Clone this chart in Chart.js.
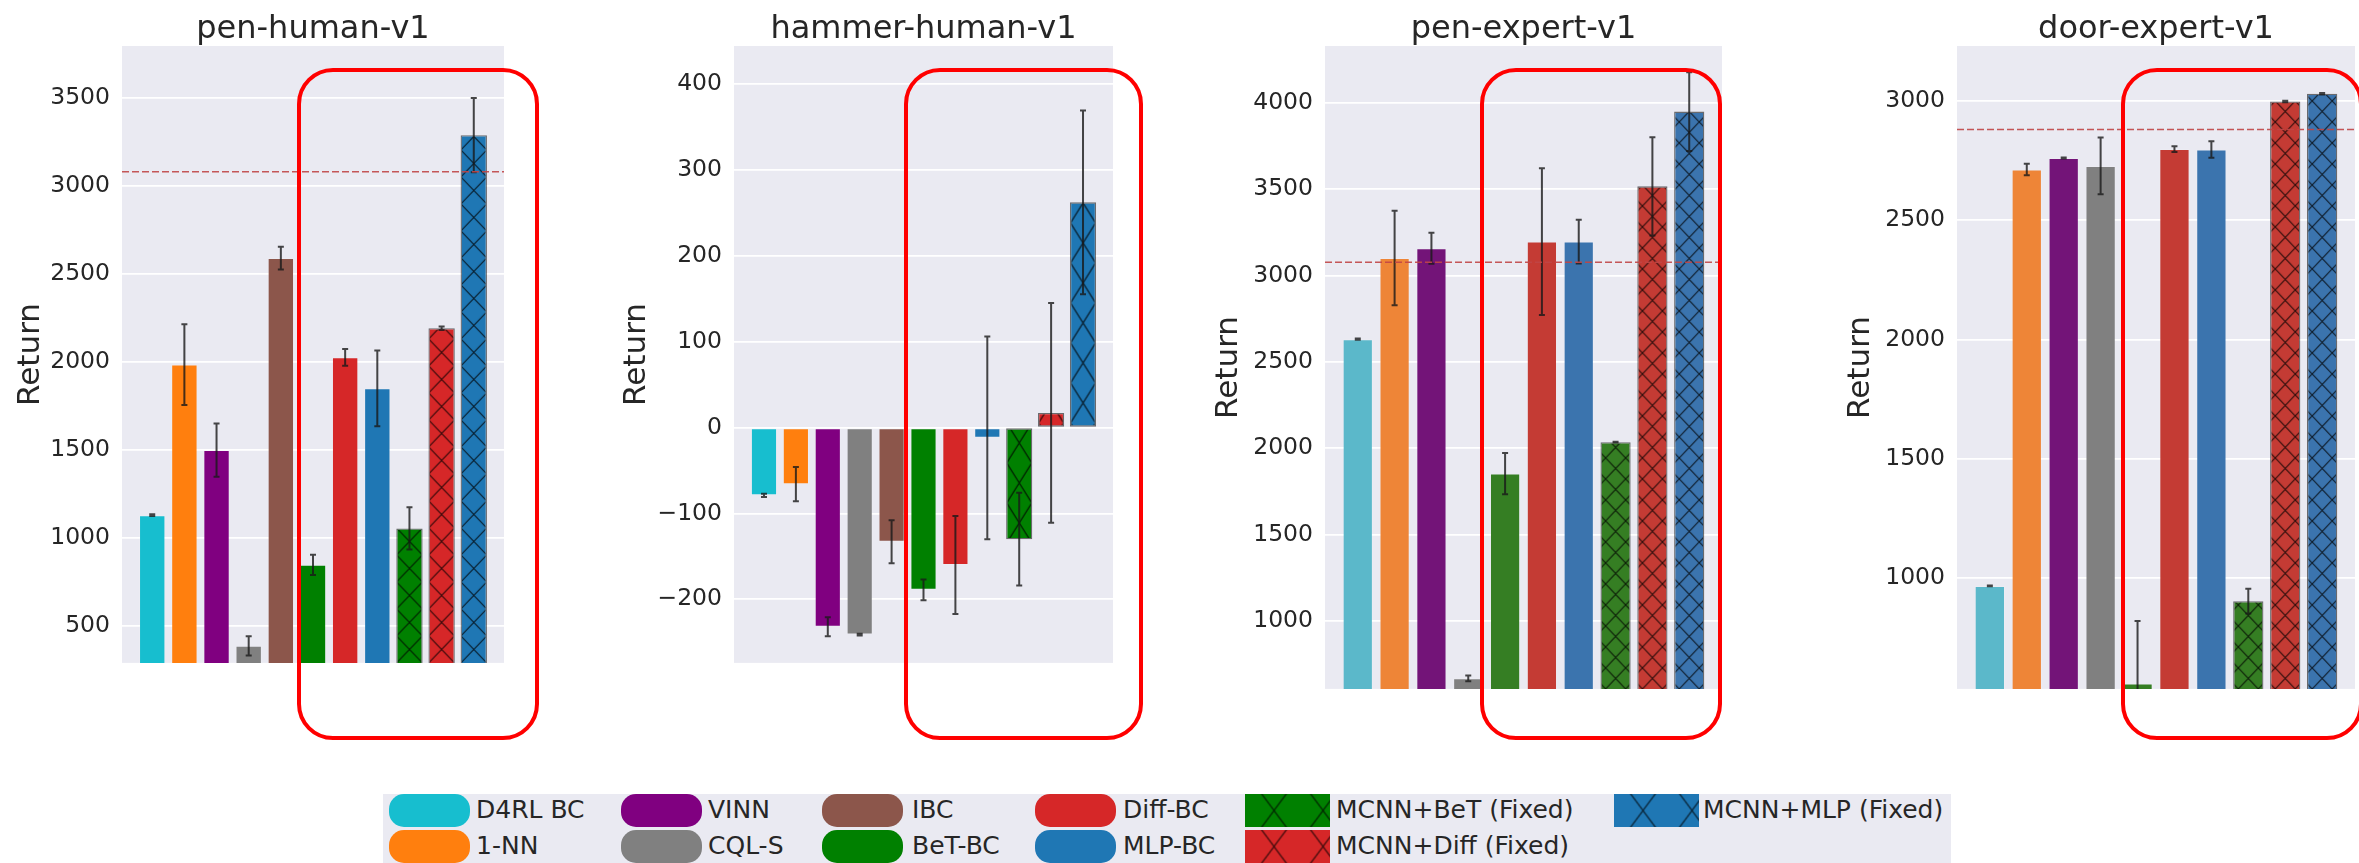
<!DOCTYPE html>
<html>
<head>
<meta charset="utf-8">
<script src="https://cdn.jsdelivr.net/npm/chart.js@4.4.0/dist/chart.umd.min.js"></script>
<style>
  html, body { margin: 0; padding: 0; }
  body { width: 2359px; height: 863px; overflow: hidden; position: relative; background: #fff; font-family: "DejaVu Sans", sans-serif; }
  .panel { position: absolute; top: 0; }
  .box { position: absolute; top: 68px; height: 672px; border: 4px solid #ff0000; border-radius: 36px; box-sizing: border-box; z-index: 5; }
  #legend { position: absolute; left: 383px; top: 794px; width: 1568px; height: 69px; background: #eaeaf2; }
  .pill { position: absolute; width: 81px; height: 33px; border-radius: 15px; }
  .lab { position: absolute; font-size: 25px; line-height: 30px; color: #262626; white-space: nowrap; }
</style>
</head>
<body>
<div class="panel" style="left:12px"><canvas id="c1" width="492" height="689"></canvas></div>
<div class="panel" style="left:618px"><canvas id="c2" width="495" height="689"></canvas></div>
<div class="panel" style="left:1210px"><canvas id="c3" width="512" height="715"></canvas></div>
<div class="panel" style="left:1842px"><canvas id="c4" width="513" height="715"></canvas></div>

<div class="box" style="left:297px; width:242px"></div>
<div class="box" style="left:904px; width:239px"></div>
<div class="box" style="left:1480px; width:242px"></div>
<div class="box" style="left:2121px; width:242px"></div>

<div id="legend"></div>

<script>
// methods, in bar order
const allMethods = ['D4RL BC', '1-NN', 'VINN', 'CQL-S', 'IBC', 'BeT-BC', 'Diff-BC', 'MLP-BC',
  'MCNN+BeT (Fixed)', 'MCNN+Diff (Fixed)', 'MCNN+MLP (Fixed)'];
const expertMethods = allMethods.filter(m => m !== 'IBC');

// pen-human-v1
const penHumanReturn = [1126, 1982, 1496, 384, 2587, 844, 2023, 1847, 1051, 2189, 3285];
const penHumanErr = [5, 229, 151, 55, 65, 58, 48, 215, 120, 10, 211];
const penHumanTicks = [500, 1000, 1500, 2000, 2500, 3000, 3500];

// hammer-human-v1
const hammerHumanReturn = [-79, -66, -232, -241, -133, -189, -160, -12, -130, 17, 262];
const hammerHumanErr = [2, 20, 11, 1, 25, 12, 57, 118, 54, 128, 107];
const hammerHumanTicks = [-200, -100, 0, 100, 200, 300, 400];

// pen-expert-v1
const penExpertReturn = [2632, 3102, 3158, 667, 1853, 3197, 3197, 2035, 3517, 3950];
const penExpertErr = [3, 273, 90, 16, 119, 425, 127, 2, 285, 228];
const penExpertTicks = [1000, 1500, 2000, 2500, 3000, 3500, 4000];

// door-expert-v1
const doorExpertReturn = [967, 2713, 2761, 2728, 558, 2799, 2797, 903, 2998, 3031];
const doorExpertErr = [2, 24, 2, 119, 262, 12, 35, 52, 3, 3];
const doorExpertTicks = [1000, 1500, 2000, 2500, 3000];

// dashed reference (expert) returns
const penExpertLine = 3078;
const doorExpertLine = 2881;

const brightColors = {
  'D4RL BC': '#17becf', '1-NN': '#ff7f0e', 'VINN': '#800080', 'CQL-S': '#808080', 'IBC': '#8c564b',
  'BeT-BC': '#008000', 'Diff-BC': '#d62728', 'MLP-BC': '#1f77b4',
  'MCNN+BeT (Fixed)': '#008000', 'MCNN+Diff (Fixed)': '#d62728', 'MCNN+MLP (Fixed)': '#1f77b4'
};
const mutedColors = {
  'D4RL BC': '#5bb8ca', '1-NN': '#ee8537', 'VINN': '#731478', 'CQL-S': '#808080', 'IBC': '#8c564b',
  'BeT-BC': '#357e23', 'Diff-BC': '#c43b34', 'MLP-BC': '#3b74ae',
  'MCNN+BeT (Fixed)': '#357e23', 'MCNN+Diff (Fixed)': '#c43b34', 'MCNN+MLP (Fixed)': '#3b74ae'
};
const isHatched = m => m.startsWith('MCNN');
const TEXT = '#262626';

function hatch(color, w, h) {
  const c = document.createElement('canvas');
  c.width = w; c.height = h;
  const g = c.getContext('2d');
  g.fillStyle = color;
  g.fillRect(0, 0, w, h);
  g.strokeStyle = 'rgba(0,0,0,0.75)';
  g.lineWidth = 1.2;
  g.beginPath();
  g.moveTo(0, 0); g.lineTo(w, h);
  g.moveTo(0, h); g.lineTo(w, 0);
  g.stroke();
  const p = g.createPattern(c, 'repeat');
  p.tile = [w, h];
  return p;
}

// grey plot area like seaborn darkgrid
const plotBg = {
  id: 'plotBg',
  beforeDraw(chart) {
    const {ctx, chartArea: a} = chart;
    ctx.save();
    ctx.fillStyle = '#eaeaf2';
    ctx.fillRect(a.left, a.top, a.width, a.height);
    ctx.restore();
  }
};

// title centred over the plot area, baseline just above it
const axTitle = {
  id: 'axTitle',
  afterDraw(chart, args, opts) {
    const {ctx, chartArea: a} = chart;
    ctx.save();
    ctx.fillStyle = TEXT;
    ctx.font = '32px "DejaVu Sans"';
    ctx.textAlign = 'center';
    ctx.textBaseline = 'alphabetic';
    ctx.fillText(opts.text, (a.left + a.right) / 2, a.top - 8);
    ctx.restore();
  }
};

// line the hatch up with each bar
const hatchAlign = {
  id: 'hatchAlign',
  beforeDatasetsDraw(chart) {
    const meta = chart.getDatasetMeta(0);
    meta.data.forEach(bar => {
      const bg = bar.options.backgroundColor;
      if (bg instanceof CanvasPattern && bg.tile) {
        bg.setTransform(new DOMMatrix().translate(bar.x - bg.tile[0] / 2, chart.chartArea.bottom));
      }
    });
  }
};

const errBars = {
  id: 'errBars',
  afterDatasetsDraw(chart, args, opts) {
    const {ctx, chartArea: a, scales: {x, y}} = chart;
    ctx.save();
    ctx.beginPath();
    ctx.rect(a.left, a.top, a.width, a.height);
    ctx.clip();
    ctx.strokeStyle = 'rgba(25,25,25,0.8)';
    ctx.lineWidth = 2;
    opts.values.forEach((v, i) => {
      const e = opts.errs[i];
      const px = x.getPixelForValue(i);
      const t = y.getPixelForValue(v + e);
      const b = y.getPixelForValue(v - e);
      ctx.beginPath();
      ctx.moveTo(px, t); ctx.lineTo(px, b);
      ctx.moveTo(px - 3, t); ctx.lineTo(px + 3, t);
      ctx.moveTo(px - 3, b); ctx.lineTo(px + 3, b);
      ctx.stroke();
    });
    if (opts.ref != null) {
      const py = y.getPixelForValue(opts.ref);
      ctx.strokeStyle = 'rgba(192,70,70,0.9)';
      ctx.lineWidth = 1.5;
      ctx.setLineDash([7, 3]);
      ctx.beginPath();
      ctx.moveTo(a.left, py); ctx.lineTo(a.right, py);
      ctx.stroke();
    }
    ctx.restore();
  }
};

function makePanel(id, title, methods, values, errs, ticks, ymin, ymax, ref, colors, tile, axisWidth) {
  const n = methods.length;
  const pad = 0.4 + 0.05 * (n - 1 + 0.8);
  const bg = methods.map(m => isHatched(m) ? hatch(colors[m], tile[0], tile[1]) : colors[m]);
  return new Chart(document.getElementById(id), {
    type: 'bar',
    data: {
      datasets: [{
        data: methods.map((m, i) => ({x: i, y: values[i]})),
        backgroundColor: bg,
        borderColor: methods.map(m => isHatched(m) ? 'rgba(0,0,0,0.55)' : 'rgba(255,255,255,0.12)'),
        borderWidth: methods.map(m => isHatched(m) ? 1.3 : 1),
        borderSkipped: false,
        barPercentage: 0.82,
        categoryPercentage: 1
      }]
    },
    options: {
      responsive: false,
      animation: false,
      devicePixelRatio: 1,
      layout: {padding: {top: 46, left: 0, right: 0, bottom: 0}},
      scales: {
        x: {type: 'linear', offset: false, min: -pad, max: n - 1 + pad, display: false},
        y: {
          min: ymin,
          max: ymax,
          afterBuildTicks: s => { s.ticks = ticks.map(v => ({value: v})); },
          afterFit: s => { s.width = axisWidth; },
          border: {display: false},
          grid: {color: '#ffffff', lineWidth: 1.7, drawTicks: false},
          ticks: {
            padding: 12,
            color: TEXT,
            font: {family: 'DejaVu Sans', size: 23.5},
            callback: v => String(v).replace('-', '\u2212')
          },
          title: {display: true, text: 'Return', color: TEXT, padding: 0,
            font: {family: 'DejaVu Sans', size: 31, lineHeight: 1.2}}
        }
      },
      plugins: {
        legend: {display: false},
        tooltip: {enabled: false},
        title: {display: false},
        axTitle: {text: title},
        errBars: {values: values, errs: errs, ref: ref}
      }
    },
    plugins: [plotBg, hatchAlign, errBars, axTitle]
  });
}

makePanel('c1', 'pen-human-v1', allMethods, penHumanReturn, penHumanErr, penHumanTicks,
  287, 3792, penExpertLine, brightColors, [26, 27], 110);
makePanel('c2', 'hammer-human-v1', allMethods, hammerHumanReturn, hammerHumanErr, hammerHumanTicks,
  -274, 444, null, brightColors, [25, 40], 116);
makePanel('c3', 'pen-expert-v1', expertMethods, penExpertReturn, penExpertErr, penExpertTicks,
  606, 4330, penExpertLine, mutedColors, [20, 21], 115);
makePanel('c4', 'door-expert-v1', expertMethods, doorExpertReturn, doorExpertErr, doorExpertTicks,
  535, 3231, doorExpertLine, mutedColors, [20, 21], 115);

// legend, two rows filled column by column
const legendCols = [389, 621, 822, 1035, 1245, 1614];
const legendText = [476, 708, 912, 1123, 1336, 1703];
const legendRows = [794, 830];
const legendEl = document.getElementById('legend');
allMethods.forEach((m, i) => {
  const col = Math.floor(i / 2), row = i % 2;
  const left = legendCols[col] - 383, top = legendRows[row] - 794;
  if (isHatched(m)) {
    const c = document.createElement('canvas');
    c.width = 85; c.height = 33;
    c.style.cssText = `position:absolute;left:${left}px;top:${top}px`;
    const g = c.getContext('2d');
    const p = hatch(brightColors[m], 49, 66);
    p.setTransform(new DOMMatrix().translate(4.5, -16.5));
    g.fillStyle = p;
    g.fillRect(0, 0, 85, 33);
    legendEl.appendChild(c);
  } else {
    const d = document.createElement('div');
    d.className = 'pill';
    d.style.cssText = `left:${left}px;top:${top}px;background:${brightColors[m]}`;
    legendEl.appendChild(d);
  }
  const s = document.createElement('span');
  s.className = 'lab';
  s.textContent = m;
  s.style.left = (legendText[col] - 383) + 'px';
  s.style.top = (top + 1) + 'px';
  legendEl.appendChild(s);
});
</script>
</body>
</html>
